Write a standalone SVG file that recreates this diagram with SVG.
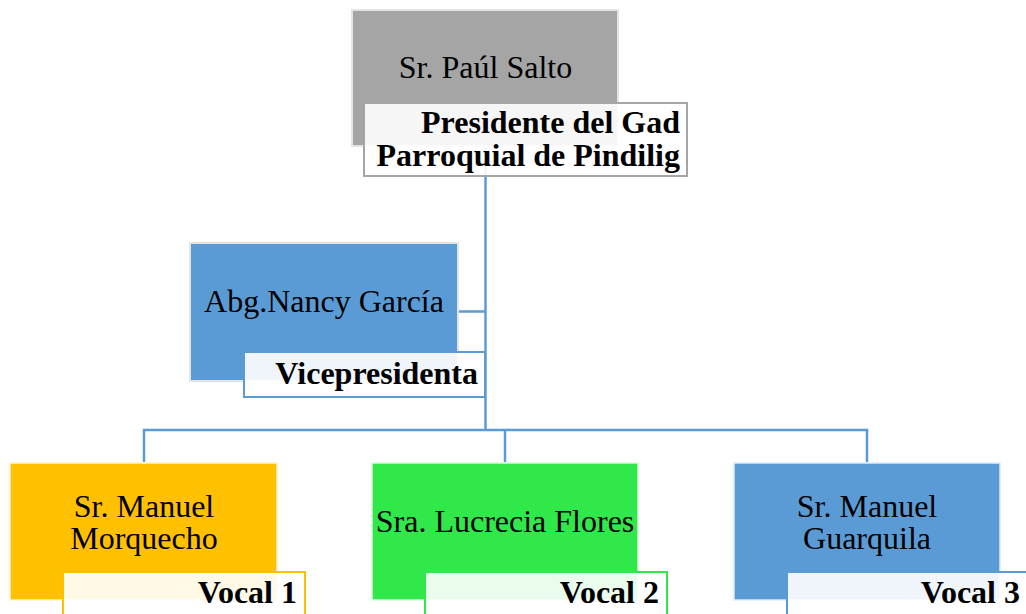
<svg xmlns="http://www.w3.org/2000/svg" width="1026" height="614" viewBox="0 0 1026 614">
<style>
.name{font-family:"Liberation Serif","Times New Roman",serif;font-size:32px;fill:#000;text-anchor:middle}
.title{font-family:"Liberation Serif","Times New Roman",serif;font-size:32px;font-weight:bold;fill:#000;text-anchor:end}
.main{stroke:#e4e4e4;stroke-width:2}
.tbox{fill:#fff;fill-opacity:0.9;stroke-width:2}
.conn{fill:none;stroke:#5B9BD5;stroke-width:2.5}
</style>
<rect width="1026" height="614" fill="#fff"/>
<g id="connectors">
<path class="conn" d="M485.5 145 V430"/>
<path class="conn" d="M459 311.5 H485.5"/>
<path class="conn" d="M144 462 V430 H867 V462"/>
<path class="conn" d="M505 430 V462"/>
</g>
<g id="node-president">
<rect class="main" x="352" y="10" width="266" height="136" fill="#A5A5A5"/>
<text class="name" x="485.5" y="78">Sr. Paúl Salto</text>
<rect class="tbox" x="364" y="103" width="323" height="73" stroke="#A5A5A5"/>
<text class="title" x="680" y="133">Presidente del Gad</text>
<text class="title" x="680" y="166">Parroquial de Pindilig</text>
</g>
<g id="node-vice">
<rect class="main" x="190" y="243" width="268" height="138" fill="#5B9BD5"/>
<text class="name" x="324" y="312">Abg.Nancy García</text>
<rect class="tbox" x="244" y="352" width="241" height="45" stroke="#5B9BD5"/>
<text class="title" x="478" y="384">Vicepresidenta</text>
</g>
<g id="node-vocal1">
<rect x="10" y="463" width="267" height="137" fill="#FFC000" stroke="#fff2cc" stroke-width="1.5"/>
<text class="name" x="144" y="517">Sr. Manuel</text>
<text class="name" x="144" y="549">Morquecho</text>
<rect class="tbox" x="63" y="572" width="242" height="50" stroke="#FFC000"/>
<text class="title" x="297" y="603">Vocal 1</text>
</g>
<g id="node-vocal2">
<rect x="372" y="463" width="266" height="137" fill="#30E84A" stroke="#d6f9db" stroke-width="1.5"/>
<text class="name" x="505" y="532">Sra. Lucrecia Flores</text>
<rect class="tbox" x="425" y="572" width="242" height="50" stroke="#30E84A"/>
<text class="title" x="659" y="603">Vocal 2</text>
</g>
<g id="node-vocal3">
<rect x="734" y="463" width="266" height="137" fill="#5B9BD5" stroke="#deebf7" stroke-width="1.5"/>
<text class="name" x="867" y="517">Sr. Manuel</text>
<text class="name" x="867" y="549">Guarquila</text>
<rect class="tbox" x="787" y="572" width="250" height="50" stroke="#5B9BD5"/>
<text class="title" x="1020" y="603">Vocal 3</text>
</g>
</svg>
